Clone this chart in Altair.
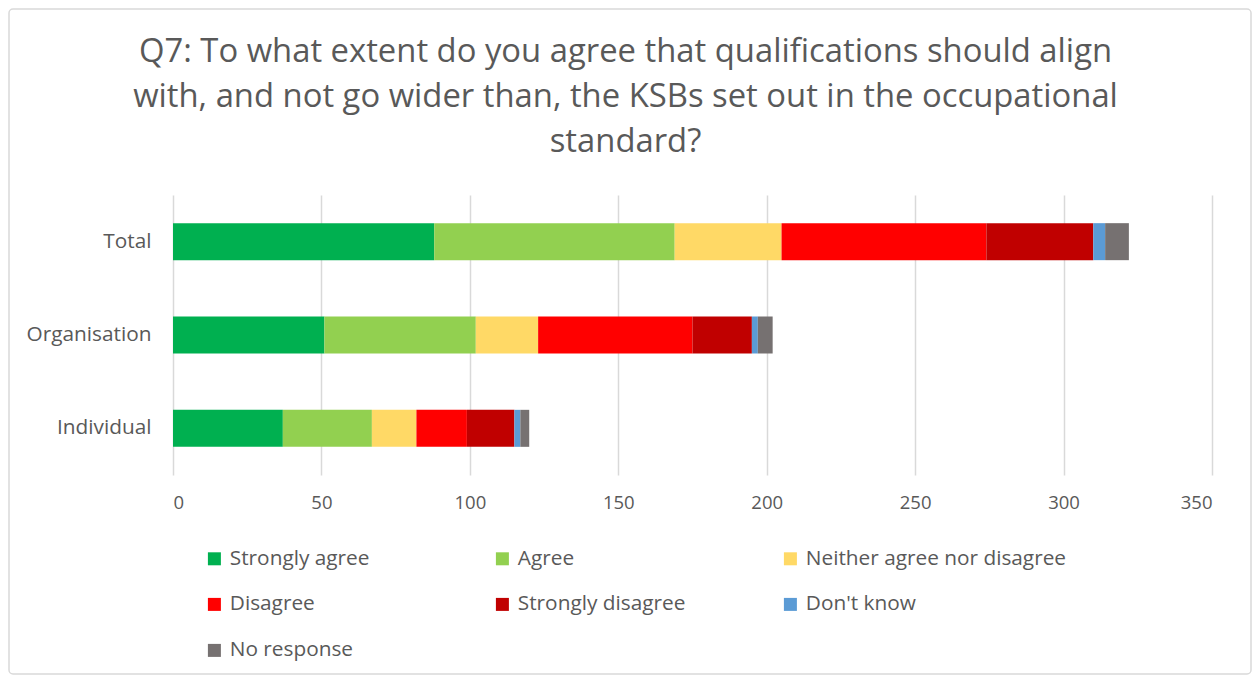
import altair as alt
import pandas as pd

groups = ["Total", "Organisation", "Individual"]
responses = ["Strongly agree", "Agree", "Neither agree nor disagree", "Disagree",
             "Strongly disagree", "Don't know", "No response"]
colors = ["#00B050", "#92D050", "#FFD966", "#FF0000", "#C00000", "#5B9BD5", "#767171"]

total_vals = [88, 81, 36, 69, 36, 4, 8]
organisation_vals = [51, 51, 21, 52, 20, 2, 5]
individual_vals = [37, 30, 15, 17, 16, 2, 3]

x_ticks = [0, 50, 100, 150, 200, 250, 300, 350]

rows = []
for g, vals in zip(groups, [total_vals, organisation_vals, individual_vals]):
    for i, (r, v) in enumerate(zip(responses, vals)):
        rows.append({"group": g, "response": r, "value": v, "order": i})
df = pd.DataFrame(rows)

FONT = "Open Sans"
GREY = "#595959"
W, H = 1039, 280
PL, PT = 165, 187
TOTAL_W, TOTAL_H = 1244, 667

bars = alt.Chart(df).mark_bar(size=37).encode(
    x=alt.X("sum(value):Q", stack="zero",
            scale=alt.Scale(domain=[0, 350], nice=False),
            axis=alt.Axis(values=x_ticks, title=None, grid=True, gridColor="#D9D9D9",
                          gridWidth=1.5, domain=False, ticks=False, labelFontSize=18.5,
                          labelColor=GREY, labelFont=FONT, labelPadding=18)),
    y=alt.Y("group:N", sort=groups,
            axis=alt.Axis(title=None, domain=False, ticks=False, labelFontSize=20.8,
                          labelColor=GREY, labelFont=FONT, labelPadding=22)),
    color=alt.Color("response:N", sort=responses,
                    scale=alt.Scale(domain=responses, range=colors),
                    legend=alt.Legend(title=None, orient="none", legendX=31, legendY=353,
                                      direction="horizontal",
                                      columns=3, gridAlign="all", columnPadding=2,
                                      rowPadding=24, symbolType="square", symbolSize=169,
                                      symbolStrokeWidth=0, labelFontSize=20.8,
                                      labelColor=GREY, labelFont=FONT, labelOffset=5,
                                      labelLimit=400)),
    order=alt.Order("order:Q", sort="ascending"),
)

border = alt.Chart(pd.DataFrame({"a": [0]})).mark_rect(
    fill=None, stroke="#D9D9D9", strokeWidth=1.5, cornerRadius=4, clip=False
).encode(
    x=alt.value(-PL + 1), x2=alt.value(TOTAL_W - PL - 1),
    y=alt.value(-PT + 1), y2=alt.value(TOTAL_H - PT - 1),
)

chart = alt.layer(bars, border).properties(
    width=W, height=H,
    autosize=alt.AutoSizeParams(type="none"),
    padding={"left": PL, "top": PT, "right": TOTAL_W - PL - W, "bottom": TOTAL_H - PT - H},
    title=alt.TitleParams(
        ["Q7: To what extent do you agree that qualifications should align",
         "with, and not go wider than, the KSBs set out in the occupational",
         "standard?"],
        fontSize=32.8, font=FONT, fontWeight="normal", color=GREY, anchor="middle",
        frame="group", dx=-67, offset=0, dy=151, lineHeight=45),
).configure_view(stroke=None)

chart.save("out.html", embed_options={"renderer": "svg", "actions": False})
